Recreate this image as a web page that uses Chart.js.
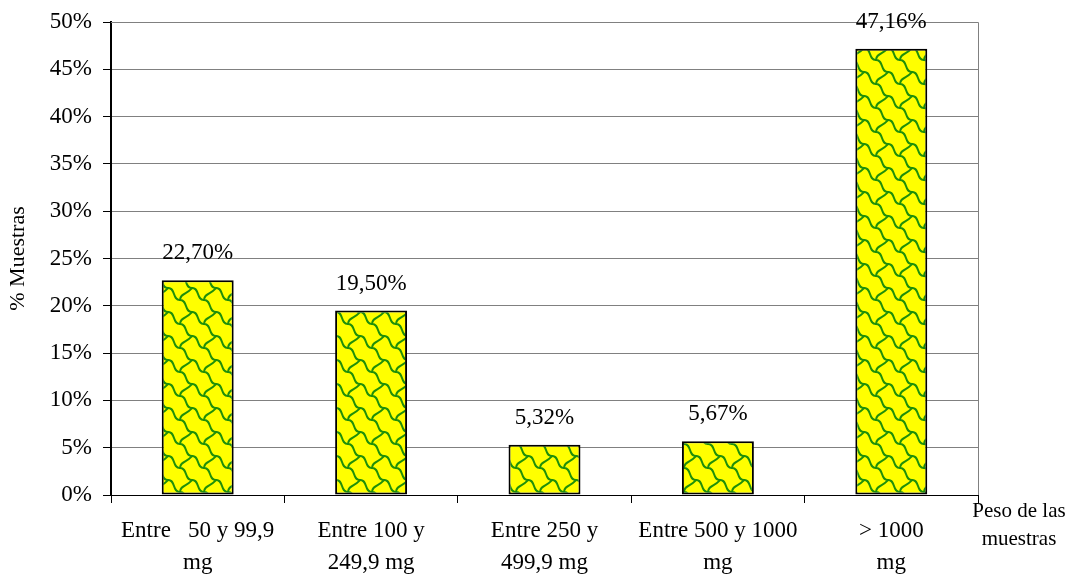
<!DOCTYPE html>
<html>
<head>
<meta charset="utf-8">
<script src="https://cdn.jsdelivr.net/npm/chart.js@4"></script>
<style>
  html, body { margin: 0; padding: 0; background: #fff; }
  #wrap { width: 1070px; height: 576px; }
</style>
</head>
<body>
<div id="wrap"><canvas id="chart"></canvas></div>
<script>
'use strict';

// data
const categories = [
  ['Entre   50 y 99,9', 'mg'],
  ['Entre 100 y', '249,9 mg'],
  ['Entre 250 y', '499,9 mg'],
  ['Entre 500 y 1000', 'mg'],
  ['> 1000', 'mg'],
];
const percentMuestras = [22.70, 19.50, 5.32, 5.67, 47.16];
const yTicks = [0, 5, 10, 15, 20, 25, 30, 35, 40, 45, 50];

const FONT = '"Liberation Serif", "Times New Roman", serif';

// yellow tile with green interlocking curves, like the office fill pattern
function makePattern() {
  const c = document.createElement('canvas');
  c.width = 24; c.height = 24;
  const g = c.getContext('2d');
  g.fillStyle = '#ffff00';
  g.fillRect(0, 0, 24, 24);
  g.strokeStyle = '#1f8f0a';
  g.lineWidth = 2;
  g.lineCap = 'round';
  for (const dx of [-24, 0, 24]) {
    for (const dy of [-24, 0, 24]) {
      g.beginPath();
      g.moveTo(dx, dy);
      g.bezierCurveTo(dx + 8, dy, dx + 4, dy + 12, dx + 12, dy + 12);
      g.bezierCurveTo(dx + 20, dy + 12, dx + 16, dy + 24, dx + 24, dy + 24);
      g.stroke();
      g.beginPath();
      g.moveTo(dx + 12, dy + 12);
      g.bezierCurveTo(dx + 12, dy + 5, dx + 20, dy + 6, dx + 24, dy);
      g.stroke();
    }
  }
  return g.createPattern(c, 'repeat');
}

const frame = {
  id: 'frame',
  beforeDatasetsDraw(chart) {
    const { ctx, chartArea: a } = chart;
    ctx.save();
    ctx.strokeStyle = '#808080';
    ctx.lineWidth = 1;
    ctx.beginPath();
    ctx.moveTo(a.left, a.top + 0.5);
    ctx.lineTo(a.right + 0.5, a.top + 0.5);
    ctx.lineTo(a.right + 0.5, a.bottom);
    ctx.stroke();
    ctx.restore();
  }
};

const valueLabels = {
  id: 'valueLabels',
  afterDatasetsDraw(chart) {
    const { ctx } = chart;
    const meta = chart.getDatasetMeta(0);
    ctx.save();
    ctx.font = '23px ' + FONT;
    ctx.fillStyle = '#000';
    ctx.textAlign = 'center';
    ctx.textBaseline = 'middle';
    meta.data.forEach((bar, i) => {
      const txt = percentMuestras[i].toFixed(2).replace('.', ',') + '%';
      ctx.fillText(txt, bar.x, bar.y - 27);
    });
    ctx.restore();
  }
};

const xTitle = {
  id: 'xTitle',
  afterDraw(chart) {
    const { ctx, chartArea: a } = chart;
    ctx.save();
    ctx.font = '21px ' + FONT;
    ctx.fillStyle = '#000';
    ctx.textAlign = 'center';
    ctx.textBaseline = 'middle';
    ctx.fillText('Peso de las', a.right + 41, a.bottom + 16);
    ctx.fillText('muestras', a.right + 41, a.bottom + 44);
    ctx.restore();
  }
};

new Chart(document.getElementById('chart'), {
  type: 'bar',
  data: {
    labels: categories,
    datasets: [{
      label: '% Muestras',
      data: percentMuestras,
      backgroundColor: makePattern(),
      borderColor: '#000',
      borderWidth: 2,
      borderSkipped: false,
      barPercentage: 0.83,
      categoryPercentage: 0.5,
    }]
  },
  options: {
    responsive: true,
    maintainAspectRatio: false,
    animation: false,
    events: [],
    layout: { padding: { left: 0, right: 92, top: 22, bottom: 0 } },
    plugins: { legend: { display: false }, tooltip: { enabled: false } },
    scales: {
      x: {
        offset: true,
        afterFit: s => { s.height = 81; s.paddingLeft = 0; s.paddingRight = 0; },
        grid: { display: true, drawOnChartArea: false, drawTicks: true, tickLength: 8, color: '#000', lineWidth: 1, offset: true },
        border: { display: true, color: '#000', width: 1 },
        ticks: { color: '#000', padding: 12, maxRotation: 0, autoSkip: false,
                 font: { family: FONT, size: 23, lineHeight: 1.4 } },
      },
      y: {
        min: 0, max: 50,
        afterFit: s => { s.width = 111; s.paddingTop = 0; s.paddingBottom = 0; },
        afterBuildTicks: s => { s.ticks = yTicks.map(v => ({ value: v })); },
        grid: { color: '#808080', lineWidth: 1, tickLength: 8, tickColor: '#000' },
        border: { display: true, color: '#000', width: 2 },
        ticks: { color: '#000', padding: 11, font: { family: FONT, size: 23 },
                 callback: v => v + '%' },
        title: { display: true, text: '% Muestras', color: '#000', padding: { top: 5, bottom: 0 },
                 font: { family: FONT, size: 22 } },
      }
    }
  },
  plugins: [frame, valueLabels, xTitle]
});
</script>
</body>
</html>
